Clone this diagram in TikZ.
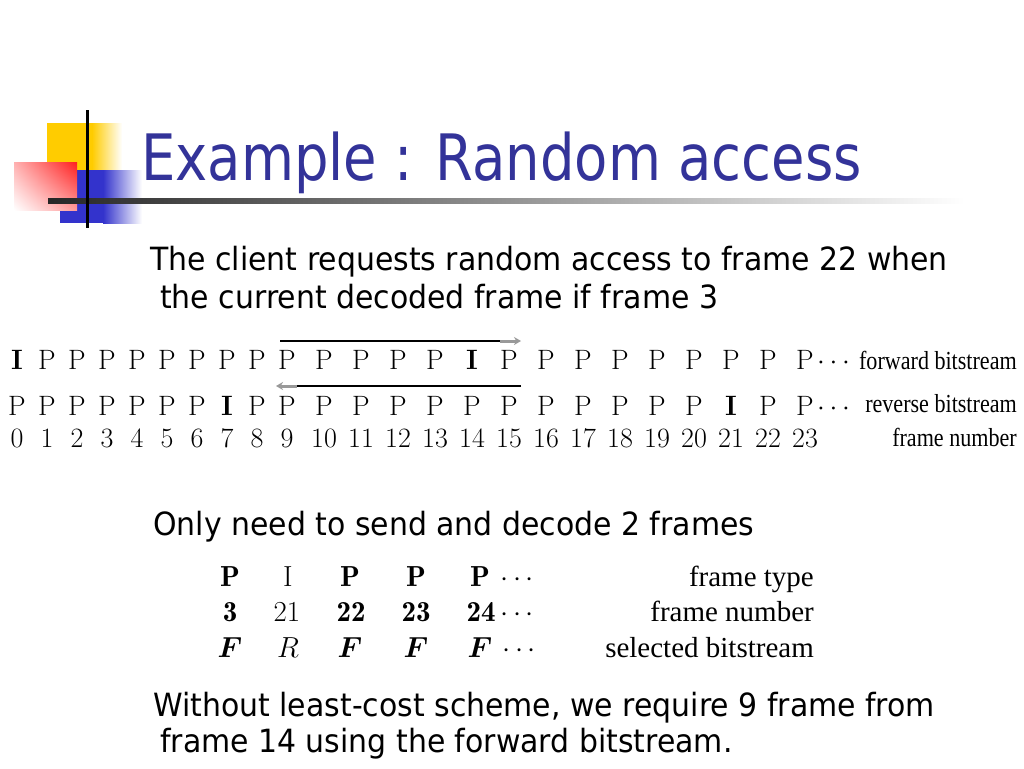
\RequirePackage{fix-cm}
\documentclass[tikz,border=0pt]{standalone}
\usepackage{amsmath,amssymb}
\usepackage{bm}
\usepackage{fontspec}
\usepackage{xcolor}
\usetikzlibrary{positioning}
\usetikzlibrary{arrows.meta}
\usetikzlibrary{shadings}
\newfontfamily\titlefont[FakeStretch=0.85]{DejaVu Sans}
\newfontfamily\slidefont[FakeStretch=0.935]{DejaVu Sans}
\newfontfamily\capfont{Liberation Serif}
\newfontfamily\figcapfont[FakeStretch=0.85]{Liberation Serif}
\definecolor{titleblue}{RGB}{51,51,153}
\definecolor{logoyellow}{RGB}{255,204,0}
\definecolor{logored}{RGB}{255,30,30}
\definecolor{logoblue}{RGB}{51,51,204}
\newcommand{\figfont}{\fontsize{28}{30}\selectfont\addfontfeatures{FakeStretch=0.8,FakeBold=2}}
\newcommand{\Ib}{\textbf{I}}

\begin{document}
\begin{tikzpicture}[x=1pt,y=-1pt]
%
\tikzstyle{fig}=[font=\figfont,inner sep=0pt,anchor=base]
\tikzstyle{figcap}=[font=\figcapfont\fontsize{26}{28}\selectfont,inner sep=0pt,anchor=base east]
\tikzstyle{tab}=[font=\fontsize{29}{31}\selectfont,inner sep=0pt,anchor=base]
\tikzstyle{tabcap}=[font=\capfont\fontsize{29}{31}\selectfont,inner sep=0pt,anchor=base east]
\tikzstyle{body}=[font=\slidefont\fontsize{32}{38}\selectfont,inner sep=0pt,anchor=base west]
\tikzstyle{bar}=[line width=1.3pt]
\tikzstyle{head}=[draw=black!40,line width=3pt,-{Stealth[length=7pt,width=8pt,fill=black!40]}]
%
\useasboundingbox (0,0) rectangle (1024,768);
\fill[white] (0,0) rectangle (1024,768);
% logo
\fill[logoyellow] (47,123) rectangle (92,170);
\shade[left color=logoyellow,right color=white] (92,123) rectangle (122,170);
\fill[logoblue] (60,170) rectangle (103,223);
\shade[left color=logoblue,right color=white] (103,170) rectangle (142,223);
\shade[upper left=logored!35!white,upper right=logored,lower left=white,lower right=logored!45!white] (14,162) rectangle (77,210);
\shade[left color=black!85,right color=white] (48,198) rectangle (965,203);
\fill[black] (86,110) rectangle (89,228);
%
\node[font=\titlefont\fontsize{64}{70}\selectfont,text=titleblue,inner sep=0pt,anchor=base west](title) at (141,180){Example : Random access};
\node[body](req1) at (150,270){The client requests random access to frame 22 when};
\node[body](req2) at (160,308){the current decoded frame if frame 3};
%
\foreach \i/\x/\f/\r in {0/17/\Ib/P,1/47/P/P,2/77/P/P,3/107/P/P,4/137/P/P,5/167/P/P,
  6/197/P/P,7/227/P/\Ib,8/257/P/P,9/287/P/P,10/324/P/P,11/361/P/P,12/398/P/P,
  13/435/P/P,14/472/\Ib/P,15/509/P/P,16/546/P/P,17/583/P/P,18/620/P/P,19/657/P/P,
  20/694/P/P,21/731/P/\Ib,22/768/P/P,23/805/P/P}{
  \node[fig](f\i) at (\x,369){\f};
  \node[fig](r\i) at (\x,415){\r};
  \node[fig](n\i) at (\x,447){\i};
}
\node[fig,anchor=base west](fdots) at (817,369){$\cdots$};
\node[fig,anchor=base west](rdots) at (817,415){$\cdots$};
\node[figcap](fwd) at (1017,369){forward bitstream};
\node[figcap](rev) at (1017,412){reverse bitstream};
\node[figcap](num) at (1017,446){frame number};
%
\coordinate (fwdA) at (280,341);
\coordinate (fwdB) at (521,341);
\coordinate (fwdC) at (500,341);
\coordinate (revA) at (521,386);
\coordinate (revB) at (276,386);
\coordinate (revC) at (297,386);
\draw[bar] (fwdA) -- (fwdC);
\draw[head] (fwdC) -- (fwdB);
\draw[bar] (revA) -- (revC);
\draw[head] (revC) -- (revB);
%
\node[body](only) at (153,535){Only need to send and decode 2 frames};
%
\node[tab](tp1) at (230,586){$\mathbf{P}$};
\node[tab](tp2) at (288,586){$\mathrm{I}$};
\node[tab](tp3) at (350,586){$\mathbf{P}$};
\node[tab](tp4) at (416,586){$\mathbf{P}$};
\node[tab](tp5) at (480,586){$\mathbf{P}$};
\node[tab,anchor=base west](tpd) at (500,586){$\cdots$};
\node[tab](tn1) at (230,621){$\mathbf{3}$};
\node[tab](tn2) at (287,621){$21$};
\node[tab](tn3) at (351,621){$\mathbf{22}$};
\node[tab](tn4) at (416,621){$\mathbf{23}$};
\node[tab](tn5) at (481,621){$\mathbf{24}$};
\node[tab,anchor=base west](tnd) at (500,621){$\cdots$};
\node[tab](ts1) at (230,657){$\bm{F}$};
\node[tab](ts2) at (288,657){$R$};
\node[tab](ts3) at (350,657){$\bm{F}$};
\node[tab](ts4) at (416,657){$\bm{F}$};
\node[tab](ts5) at (480,657){$\bm{F}$};
\node[tab,anchor=base west](tsd) at (502,657){$\cdots$};
\node[tabcap](ctype) at (814,586){frame type};
\node[tabcap](cnum) at (814,621){frame number};
\node[tabcap](csel) at (814,657){selected bitstream};
%
\node[body](wo1) at (153,716){Without least-cost scheme, we require 9 frame from};
\node[body](wo2) at (160,752){frame 14 using the forward bitstream.};
\end{tikzpicture}
\end{document}
